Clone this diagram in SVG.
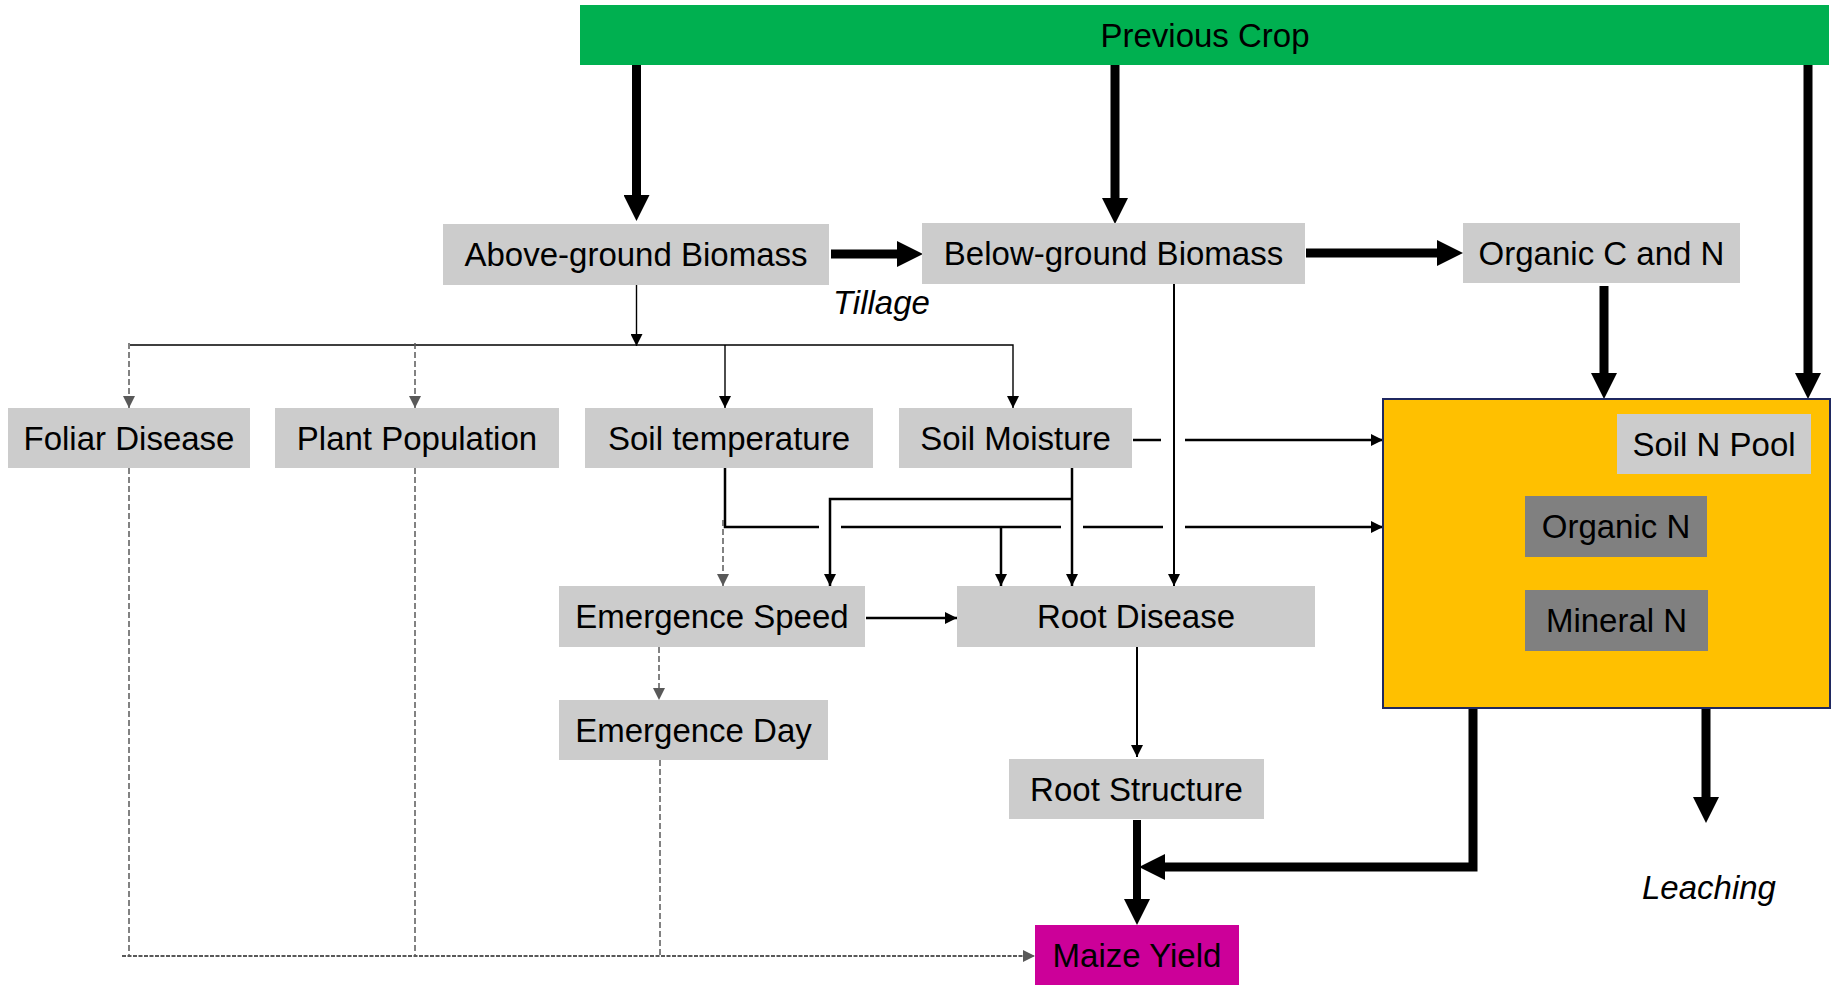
<svg xmlns="http://www.w3.org/2000/svg" width="1835" height="1000" viewBox="0 0 1835 1000">
<style>
text{font-family:"Liberation Sans",Arial,sans-serif;font-size:33px;fill:#000;text-anchor:middle}
.it{font-style:italic;text-anchor:start}
.box{fill:#CCCCCC}
.dark{fill:#808080}
.thick{fill:none;stroke:#000;stroke-width:9}
.thin{fill:none;stroke:#000;stroke-width:1.4}
.mid{fill:none;stroke:#000;stroke-width:2.5}
.dash{fill:none;stroke:#595959;stroke-width:1.5;stroke-dasharray:6 3}
</style>
<defs>
<marker id="big" viewBox="0 0 26 26" refX="0" refY="13" markerWidth="26" markerHeight="26" markerUnits="userSpaceOnUse" orient="auto"><path d="M0,0 L26,13 L0,26 z" fill="#000"/></marker>
<marker id="sm" viewBox="0 0 12 12" refX="12" refY="6" markerWidth="12" markerHeight="12" markerUnits="userSpaceOnUse" orient="auto"><path d="M0,0 L12,6 L0,12 z" fill="#000"/></marker>
<marker id="gr" viewBox="0 0 12 12" refX="12" refY="6" markerWidth="12" markerHeight="12" markerUnits="userSpaceOnUse" orient="auto"><path d="M0,0 L12,6 L0,12 z" fill="#595959"/></marker>
</defs>
<rect width="1835" height="1000" fill="#fff"/>
<g id="connectors">
<path class="thick" d="M636.5,65 V195" marker-end="url(#big)"/>
<path class="thick" d="M1115,65 V198" marker-end="url(#big)"/>
<path class="thick" d="M1808,65 V373" marker-end="url(#big)"/>
<path class="thick" d="M831,254 H897" marker-end="url(#big)"/>
<path class="thick" d="M1306,253 H1437" marker-end="url(#big)"/>
<path class="thick" d="M1604,286 V373" marker-end="url(#big)"/>
<path class="thick" style="stroke-width:8" d="M1137,820 V899" marker-end="url(#big)"/>
<path class="thick" d="M1473,708 V867 H1165" marker-end="url(#big)"/>
<path class="thick" d="M1706,708 V797" marker-end="url(#big)"/>
<path class="thin" d="M636.5,285 V346" marker-end="url(#sm)"/>
<path class="thin" d="M130,345 H1013 V408" marker-end="url(#sm)"/>
<path class="thin" d="M725,345 V408" marker-end="url(#sm)"/>
<path class="dash" d="M129,343 V408" marker-end="url(#gr)"/>
<path class="dash" d="M415,343 V408" marker-end="url(#gr)"/>
<path class="mid" d="M1133,440 H1161"/>
<path class="mid" d="M1185,440 H1383" marker-end="url(#sm)"/>
<path class="mid" d="M725,468 V527 H819"/>
<path class="mid" d="M841,527 H1061"/>
<path class="mid" d="M1083,527 H1163"/>
<path class="mid" d="M1185,527 H1383" marker-end="url(#sm)"/>
<path class="mid" d="M1072,468 V586" marker-end="url(#sm)"/>
<path class="mid" d="M1072,499 H830 V586" marker-end="url(#sm)"/>
<path class="mid" d="M1001,527 V586" marker-end="url(#sm)"/>
<path class="mid" style="stroke-width:2" d="M1174,284 V586" marker-end="url(#sm)"/>
<path class="mid" d="M866,618 H957" marker-end="url(#sm)"/>
<path class="mid" style="stroke-width:2" d="M1137,647 V757" marker-end="url(#sm)"/>
<path class="dash" d="M723,520 V586" marker-end="url(#gr)"/>
<path class="dash" d="M659,647 V700" marker-end="url(#gr)"/>
<path class="dash" d="M129,468 V956"/>
<path class="dash" d="M415,468 V956"/>
<path class="dash" d="M660,760 V956"/>
<path class="dash" style="stroke-width:2.2;stroke-dasharray:4 1.5" d="M122,956 H1035" marker-end="url(#gr)"/>
</g>
<g id="previous-crop"><rect x="580" y="5" width="1249" height="60" fill="#00B050"/><text x="1205" y="47">Previous Crop</text></g>
<g id="above-ground"><rect class="box" x="443" y="224" width="386" height="61"/><text x="636" y="266">Above-ground Biomass</text></g>
<g id="below-ground"><rect class="box" x="922" y="223" width="383" height="61"/><text x="1113.5" y="265">Below-ground Biomass</text></g>
<g id="organic-cn"><rect class="box" x="1463" y="223" width="277" height="60"/><text x="1601.5" y="265">Organic C and N</text></g>
<g id="tillage"><text class="it" x="833" y="314">Tillage</text></g>
<g id="foliar-disease"><rect class="box" x="8" y="408" width="242" height="60"/><text x="129" y="450">Foliar Disease</text></g>
<g id="plant-population"><rect class="box" x="275" y="408" width="284" height="60"/><text x="417" y="450">Plant Population</text></g>
<g id="soil-temperature"><rect class="box" x="585" y="408" width="288" height="60"/><text x="729" y="450">Soil temperature</text></g>
<g id="soil-moisture"><rect class="box" x="899" y="408" width="233" height="60"/><text x="1015.5" y="450">Soil Moisture</text></g>
<g id="soil-n-pool">
<rect x="1383" y="399" width="447" height="309" fill="#FFC000" stroke="#1F2860" stroke-width="2"/>
<rect class="box" x="1617" y="414" width="194" height="60"/><text x="1714" y="456">Soil N Pool</text>
<g id="organic-n"><rect class="dark" x="1525" y="496" width="182" height="61"/><text x="1616" y="538">Organic N</text></g>
<g id="mineral-n"><rect class="dark" x="1525" y="590" width="183" height="61"/><text x="1616.5" y="632">Mineral N</text></g>
</g>
<g id="emergence-speed"><rect class="box" x="559" y="586" width="306" height="61"/><text x="712" y="628">Emergence Speed</text></g>
<g id="root-disease"><rect class="box" x="957" y="586" width="358" height="61"/><text x="1136" y="628">Root Disease</text></g>
<g id="emergence-day"><rect class="box" x="559" y="700" width="269" height="60"/><text x="693.5" y="742">Emergence Day</text></g>
<g id="root-structure"><rect class="box" x="1009" y="759" width="255" height="60"/><text x="1136.5" y="801">Root Structure</text></g>
<g id="maize-yield"><rect x="1035" y="925" width="204" height="60" fill="#CC0099"/><text x="1137" y="967">Maize Yield</text></g>
<g id="leaching"><text class="it" x="1642" y="899">Leaching</text></g>
</svg>
